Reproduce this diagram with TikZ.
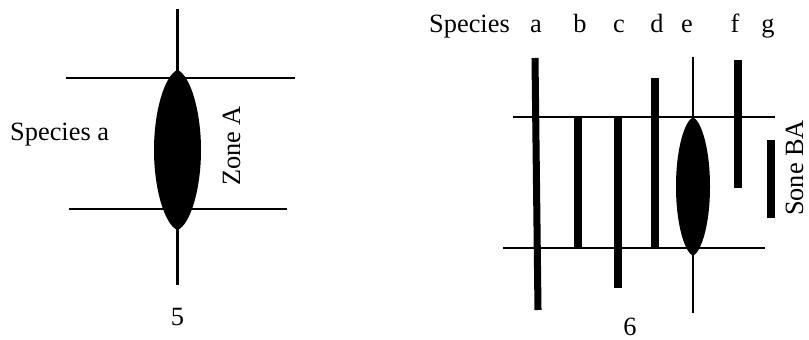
\documentclass[tikz,border=0pt]{standalone}
\usepackage{fontspec}
\setmainfont{Liberation Serif}
\usepackage{tikz}
\usetikzlibrary{positioning,calc}
\tikzstyle{thin line} = [line width=1.8pt, black]
\tikzstyle{rangebar} = [line width=6pt, black]
\tikzstyle{lensfill} = [fill=black, draw=none]
\tikzstyle{caption} = [inner sep=0pt, font=\fontsize{22.5}{27}\selectfont]

\begin{document}
\begin{tikzpicture}[x=0.03cm, y=-0.03cm]
\useasboundingbox (0,0) rectangle (809,340);

% Figure 5: one species, one zone
\draw [thin line] (177.5,9) -- (177.5,285);
\draw [thin line] (66,78) -- (295,78);
\draw [thin line] (69,209) -- (287,209);
\fill [lensfill] (177.5,70) .. controls (190,75) and (201,110) .. (201,150)
  .. controls (201,190) and (190,225) .. (177.5,230)
  .. controls (165,225) and (154,190) .. (154,150)
  .. controls (154,110) and (165,75) .. cycle;
\node (speciesA) [caption, anchor=base west] at (10,140) {Species a};
\node (zoneA) [caption, rotate=90, anchor=base] at (240,146) {Zone A};
\node (figFive) [caption, anchor=base] at (177.5,325) {5};

% Figure 6: several species, overlapping ranges
\node (species) [caption, anchor=base west] at (429,33) {Species};
\node (sa) [caption, anchor=base] at (536,33) {a};
\node (sb) [caption, anchor=base] at (580,33) {b};
\node (sc) [caption, anchor=base] at (619,33) {c};
\node (sd) [caption, anchor=base] at (657,33) {d};
\node (se) [caption, anchor=base] at (687,33) {e};
\node (sf) [caption, anchor=base] at (735,33) {f};
\node (sg) [caption, anchor=base] at (768,33) {g};

% zone boundaries
\draw [thin line] (513,117) -- (775,117);
\draw [thin line] (503,248) -- (765,248);

% ranges
\draw [rangebar] (535,58) -- (538,310);
\draw [rangebar] (578,118) -- (578,247);
\draw [rangebar] (618,118) -- (618,288);
\draw [rangebar] (655,78) -- (655,247);
\draw [thin line] (693,57) -- (693,313);
\fill [lensfill] (693,117) .. controls (702,122) and (710,150) .. (710,186.5)
  .. controls (710,223) and (702,251) .. (693,256)
  .. controls (684,251) and (676,223) .. (676,186.5)
  .. controls (676,150) and (684,122) .. cycle;
\draw [rangebar] (738,60) -- (738,188);
\draw [rangebar] (771,140) -- (771,218);

\node (soneBA) [caption, rotate=90, anchor=base] at (803,168) {Sone BA};
\node (figSix) [caption, anchor=base] at (630,335) {6};

\end{tikzpicture}
\end{document}
